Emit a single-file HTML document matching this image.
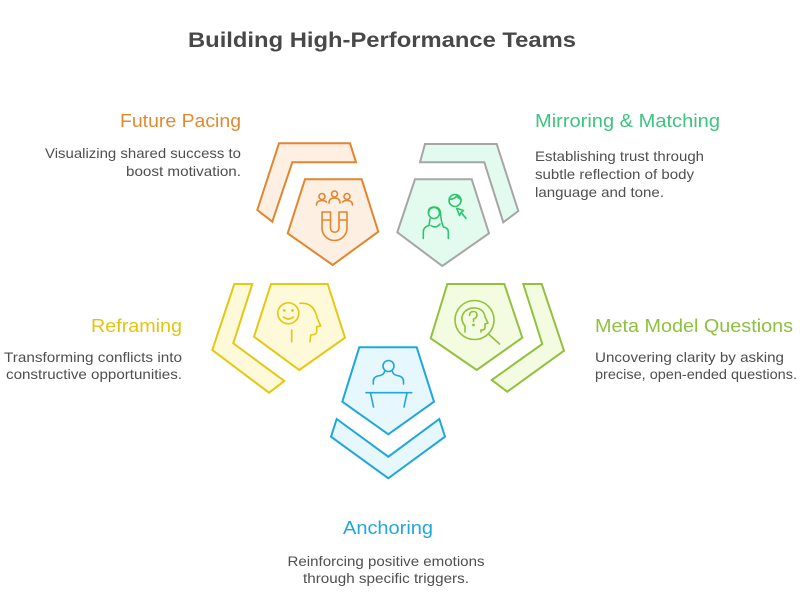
<!DOCTYPE html>
<html>
<head>
<meta charset="utf-8">
<style>
html,body{margin:0;padding:0;background:#fff;}
svg{display:block;}
text{font-family:"Liberation Sans",Arial,sans-serif;}
.t{font-size:18px;}
.d{font-size:14px;fill:#4f4f4f;}
</style>
</head>
<body>
<svg width="800" height="611" viewBox="0 0 800 611" xmlns="http://www.w3.org/2000/svg">
<rect width="800" height="611" fill="#fff"/>

<!-- Title -->
<text x="188" y="47" font-size="21" font-weight="bold" fill="#484848" textLength="388" lengthAdjust="spacingAndGlyphs">Building High-Performance Teams</text>

<!-- Future Pacing (orange) -->
<g fill="#FDEFE2" stroke="#E2862F" stroke-width="2" stroke-linejoin="miter">
  <polygon points="279,143.3 350,143.3 356,162.3 292.3,162.3 272.3,221.7 257.3,210"/>
  <polygon points="305,179.3 361.7,179.3 378.3,231.7 332.7,265 287.7,233.3"/>
</g>
<g fill="none" stroke="#E2862F" stroke-width="1.6" stroke-linecap="round" stroke-linejoin="round">
  <circle cx="322" cy="196.5" r="3"/>
  <circle cx="334.5" cy="194" r="3"/>
  <circle cx="347" cy="196.5" r="3"/>
  <path d="M316.5,205 Q316.5,200.5 322,200.5 Q325,200.5 326.5,202"/>
  <path d="M329,203 Q329,198 334.5,198 Q340,198 340,203"/>
  <path d="M352.5,205 Q352.5,200.5 347,200.5 Q344,200.5 342.5,202"/>
  <path d="M322,212 V228 A12.5,12.5 0 0 0 347,228 V212 H339 V228 A4.25,4.25 0 0 1 330.5,228 V212 Z"/>
  <path d="M322,220 H330.5 M339,220 H347"/>
</g>
<text class="t" x="241" y="127" text-anchor="end" fill="#E38A30" textLength="121" lengthAdjust="spacingAndGlyphs">Future Pacing</text>
<text class="d" x="241" y="158" text-anchor="end" textLength="196" lengthAdjust="spacingAndGlyphs">Visualizing shared success to</text>
<text class="d" x="241" y="176" text-anchor="end" textLength="115" lengthAdjust="spacingAndGlyphs">boost motivation.</text>

<!-- Mirroring & Matching (green/grey) -->
<g fill="#E3FBEF" stroke="#A6A6A6" stroke-width="2">
  <polygon points="425,144 496.7,144 518.3,211 503.3,222.3 484.3,162.3 420,162.3"/>
  <polygon points="415,179.3 471.7,179.3 489,233.3 442.3,266 397.3,232.3"/>
</g>
<g fill="none" stroke="#2EC46E" stroke-width="1.6" stroke-linecap="round" stroke-linejoin="round">
  <circle cx="434" cy="213" r="5.5"/>
  <path d="M428.5,213 Q428,207 434,207 Q440,207 440.5,213 Q441,222 443.5,227"/>
  <path d="M423.3,238.5 V232 Q423.3,227 429,225.5 L430,219"/>
  <path d="M448.3,238.5 V232 Q448.3,228 443.5,227"/>
  <path d="M431,225.5 Q436,229 440,224"/>
  <circle cx="455" cy="200.5" r="6"/>
  <path d="M449.5,199 Q453,200 457,196 Q459,199 461,199"/>
  <path d="M456.7,208.3 L463.5,210.5 L461,212.5 L459.5,215.5 Z"/>
  <path d="M461.5,213 L466,218.3"/>
</g>
<text class="t" x="535" y="127" fill="#3CC480" textLength="185" lengthAdjust="spacingAndGlyphs">Mirroring &amp; Matching</text>
<text class="d" x="535" y="161" textLength="169" lengthAdjust="spacingAndGlyphs">Establishing trust through</text>
<text class="d" x="535" y="179" textLength="159" lengthAdjust="spacingAndGlyphs">subtle reflection of body</text>
<text class="d" x="535" y="197" textLength="129" lengthAdjust="spacingAndGlyphs">language and tone.</text>

<!-- Reframing (yellow) -->
<g fill="#FEF9D9" stroke="#E4C812" stroke-width="2">
  <polygon points="234.3,284 252.3,284 233.3,343.3 284.3,381 269,392.7 212.3,350"/>
  <polygon points="271,284 327.7,284 345,337.7 299.3,370 254,336.7"/>
</g>
<g fill="none" stroke="#E4C812" stroke-width="1.6" stroke-linecap="round" stroke-linejoin="round">
  <circle cx="288.3" cy="313.3" r="10.5"/>
  <circle cx="284.3" cy="310.5" r="0.6" fill="#E4C812"/>
  <circle cx="292.5" cy="310.5" r="0.6" fill="#E4C812"/>
  <path d="M283.5,317 Q288.5,321 293.5,317"/>
  <path d="M291.7,330 V341.7"/>
  <path d="M300,303.3 Q314,302 317.3,318.3 L320.7,326 L316.7,326.7 V332 Q316,335 310.7,335 L310,341.7"/>
</g>
<text class="t" x="182" y="332" text-anchor="end" fill="#E2C50E" textLength="91" lengthAdjust="spacingAndGlyphs">Reframing</text>
<text class="d" x="182" y="362" text-anchor="end" textLength="178" lengthAdjust="spacingAndGlyphs">Transforming conflicts into</text>
<text class="d" x="182" y="379" text-anchor="end" textLength="176" lengthAdjust="spacingAndGlyphs">constructive opportunities.</text>

<!-- Meta Model Questions (lime) -->
<g fill="#F3FCE1" stroke="#92C13E" stroke-width="2">
  <polygon points="523.3,284 541.7,284 564,350.7 507.3,391.7 491.7,380 542.3,344"/>
  <polygon points="447.3,284 504.3,284 522.3,337.7 476.7,370 430.7,338.3"/>
</g>
<g fill="none" stroke="#92C13E" stroke-width="1.6" stroke-linecap="round" stroke-linejoin="round">
  <circle cx="474.5" cy="320" r="19.5"/>
  <path d="M489,334.5 L499.5,344"/>
  <path d="M465,332 V326 Q460,320 463,314 Q467,307.5 475.5,308 Q484,309 485,317 L488,323 L485,324 V328 Q484.5,330 481,330 V332"/>
  <path d="M469.5,315.5 Q469.5,311.5 473.5,311.5 Q477,311.5 477,315 Q477,318 473.5,319 V321.5"/>
  <circle cx="473.5" cy="325" r="0.6" fill="#92C13E"/>
</g>
<text class="t" x="595" y="332" fill="#8DC13F" textLength="198" lengthAdjust="spacingAndGlyphs">Meta Model Questions</text>
<text class="d" x="595" y="362" textLength="189" lengthAdjust="spacingAndGlyphs">Uncovering clarity by asking</text>
<text class="d" x="595" y="379" textLength="202" lengthAdjust="spacingAndGlyphs">precise, open-ended questions.</text>

<!-- Anchoring (blue) -->
<g fill="#E6F7FD" stroke="#1FA7DB" stroke-width="2">
  <polygon points="359.3,347.3 416.7,347.3 434,401.7 388.3,434.3 342.3,401.7"/>
  <polygon points="336.7,419 388.3,456.7 439.3,419 445,436.7 388.3,478.3 331,436.7"/>
</g>
<g fill="none" stroke="#1FA7DB" stroke-width="1.6" stroke-linecap="round" stroke-linejoin="round">
  <circle cx="388.5" cy="366" r="5.5"/>
  <path d="M373.3,384 V381 Q373.3,376.5 380,375.5 Q384,374.5 384.5,371.5"/>
  <path d="M403.5,384 V381 Q403.5,376.5 397,375.5 Q393,374.5 392.5,371.5"/>
  <path d="M366,392.7 H411.7"/>
  <path d="M370.5,393 L373.5,407 M407,393 L404,407"/>
</g>
<text class="t" x="388" y="534" text-anchor="middle" fill="#22A7D9" textLength="90" lengthAdjust="spacingAndGlyphs">Anchoring</text>
<text class="d" x="386" y="566" text-anchor="middle" textLength="197" lengthAdjust="spacingAndGlyphs">Reinforcing positive emotions</text>
<text class="d" x="386" y="583" text-anchor="middle" textLength="166" lengthAdjust="spacingAndGlyphs">through specific triggers.</text>
</svg>
</body>
</html>
